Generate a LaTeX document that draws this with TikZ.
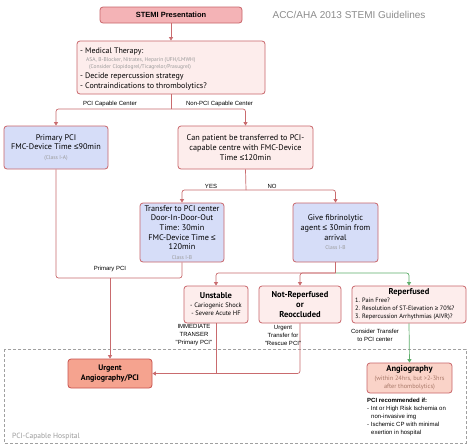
\documentclass[tikz,border=0pt]{standalone}
\usepackage{fontspec}
\setmainfont{PT Sans}
\newfontfamily\lab{Liberation Sans}
\newcommand\myle{{\lab ≤}}
\newcommand\myge{{\lab ≥}}
\usetikzlibrary{arrows.meta}
\definecolor{boxred}{HTML}{C9656A}
\definecolor{linered}{HTML}{C96B6E}
\definecolor{greenl}{HTML}{5DAE6A}
\definecolor{stemifill}{HTML}{F4B3B6}
\definecolor{pinkfill}{HTML}{FDEDEC}
\definecolor{bluefill}{HTML}{D6DDF8}
\definecolor{urgfill}{HTML}{F5A38F}
\definecolor{urgdraw}{HTML}{C8524E}
\definecolor{angfill}{HTML}{FAD3C8}
\definecolor{classgray}{HTML}{9A9A9A}
\definecolor{brownish}{HTML}{A87868}
\definecolor{framegray}{HTML}{A0A0A0}
\definecolor{titlegray}{HTML}{8C8C8C}
\begin{document}
\begin{tikzpicture}[x=1pt,y=-1pt,
  box/.style={draw=boxred, line width=0.8pt, rounded corners=3pt, inner sep=1pt, align=center, font=\fontsize{8.2}{9.7}\selectfont},
  pinkbox/.style={box, fill=pinkfill},
  bluebox/.style={box, fill=bluefill},
  conn/.style={draw=linered, line width=0.7pt, rounded corners=2.5pt},
  gconn/.style={draw=greenl, line width=0.7pt, rounded corners=2.5pt},
  arr/.style={-{Triangle[width=4pt,length=3.5pt]}},
  lbl/.style={font=\lab\fontsize{6}{8}\selectfont, align=center, inner sep=0},
  txt/.style={anchor=base west, inner sep=0}]
\useasboundingbox (0,0) rectangle (474,447);
\fill[white] (0,0) rectangle (474,447);
% frame
\draw[framegray, line width=0.6pt, dash pattern=on 3pt off 2pt] (4,349) rectangle (466,443);
\node[txt, font=\fontsize{7.5}{9}\selectfont, text=classgray] (hosp) at (12,438) {PCI-Capable Hospital};
% title
\node[font=\lab\fontsize{10}{12}\selectfont, text=titlegray, inner sep=0] (title) at (349,15) {ACC/AHA 2013 STEMI Guidelines};
% boxes
\node[box, fill=stemifill, minimum width=142, minimum height=16, font=\lab\bfseries\fontsize{7.5}{9}\selectfont] (stemi) at (171,15) {STEMI Presentation};
\node[pinkbox, minimum width=188, minimum height=53] (med) at (171,67.5) {};
\node[txt, font=\fontsize{8}{9}\selectfont] (m1) at (80,53) {- Medical Therapy:};
\node[txt, font=\fontsize{5.5}{6}\selectfont, text=classgray] (m2) at (86,61) {ASA, B-Blocker, Nitrates, Heparin (UFH/LMWH)};
\node[txt, font=\fontsize{5.5}{6}\selectfont, text=classgray] (m3) at (89,68.5) {(Consider Clopidogrel/Ticagrelor/Prasugrel)};
\node[txt, font=\fontsize{8}{9}\selectfont] (m4) at (80,78) {- Decide repercussion strategy};
\node[txt, font=\fontsize{8}{9}\selectfont] (m5) at (80,88) {- Contraindications to thrombolytics?};

\node[bluebox, minimum width=104, minimum height=43] (ppci) at (56,147.5) {Primary PCI\\FMC-Device Time \myle90min\\{\color{classgray}\fontsize{5.5}{7}\selectfont (Class I-A)}};
\node[pinkbox, minimum width=135, minimum height=43] (can) at (245.5,147.5) {Can patient be transferred to PCI-\\capable centre with FMC-Device\\Time \myle120min};
\node[bluebox, minimum width=84, minimum height=59] (trans) at (182,232.5) {Transfer to PCI center\\Door-In-Door-Out\\Time: 30min\\FMC-Device Time \myle\\120min\\{\color{classgray}\fontsize{5.5}{7}\selectfont Class I-B}};
\node[bluebox, minimum width=85, minimum height=59] (fib) at (335.5,232.5) {Give fibrinolytic\\agent \myle\ 30min from\\arrival\\{\color{classgray}\fontsize{5.5}{7}\selectfont Class I-B}};
\node[pinkbox, minimum width=64, minimum height=37] (unst) at (216,304.5) {{\bfseries\fontsize{8.5}{9}\selectfont Unstable}\\[-1pt]{\fontsize{6.5}{8}\selectfont - Cariogenic Shock}\\[-1.5pt]{\fontsize{6.5}{8}\selectfont - Severe Acute HF}};
\node[pinkbox, minimum width=82, minimum height=37, font=\bfseries\fontsize{8.5}{9.7}\selectfont] (notrep) at (300,304.5) {Not-Reperfused\\or\\Reoccluded};
\node[pinkbox, minimum width=114, minimum height=37, align=left] (rep) at (409,304.5) {};
\node[font=\bfseries\fontsize{8.5}{9}\selectfont, inner sep=0] (rept) at (409,292) {Reperfused};
\node[txt, font=\fontsize{6.3}{7}\selectfont] (r1) at (355,302.5) {1. Pain Free?};
\node[txt, font=\fontsize{6.3}{7}\selectfont] (r2) at (355,310.5) {2. Resolution of ST-Elevation \myge\ 70\%?};
\node[txt, font=\fontsize{6.3}{7}\selectfont] (r3) at (355,318.5) {3. Repercussion Arrhythmias (AIVR)?};
\node[box, draw=urgdraw, fill=urgfill, minimum width=84, minimum height=29, font=\bfseries\fontsize{8}{9.5}\selectfont] (urg) at (110,373.5) {Urgent\\Angiography/PCI};
\node[box, fill=angfill, minimum width=85, minimum height=30] (ang) at (409.5,378) {{\bfseries\fontsize{8.5}{9}\selectfont Angiography}\\[-1pt]{\color{brownish}\fontsize{6.3}{8}\selectfont (within 24hrs, but >2-3hrs}\\[-1.5pt]{\color{brownish}\fontsize{6.3}{8}\selectfont after thombolytics)}};
% PCI recommended
\node[txt, font=\lab\bfseries\fontsize{6}{7}\selectfont] (p1) at (367,402) {PCI recommended if:};
\node[txt, font=\lab\fontsize{6}{7}\selectfont] (p2) at (367,410) {- Int or High Risk Ischemia on};
\node[txt, font=\lab\fontsize{6}{7}\selectfont] (p3) at (371,418) {non-invasive img};
\node[txt, font=\lab\fontsize{6}{7}\selectfont] (p4) at (367,426) {- Ischemic CP with minimal};
\node[txt, font=\lab\fontsize{6}{7}\selectfont] (p5) at (371,434) {exertion in hospital};
% connectors
\coordinate (c1) at (171,109);
\coordinate (c2) at (246,190);
\coordinate (c3) at (110,278);
\coordinate (c4) at (335.5,273);
\coordinate (c5) at (216,373);
\draw[conn, arr] (stemi) -- (med);
\draw[conn] (med.south) -- (c1);
\draw[conn, arr] (c1) -| (ppci.north);
\draw[conn, arr] (c1) -| (can.north);
\draw[conn] (can.south) -- (c2);
\draw[conn, arr] (c2) -| (trans.north);
\draw[conn, arr] (c2) -| (fib.north);
\draw[conn] (ppci.south) |- (c3) -| (trans.south);
\draw[conn, arr] (c3) -- (urg.north);
\draw[conn] (fib.south) -- (c4);
\draw[conn, arr] (c4) -| (unst.north);
\draw[conn, arr] (c4) -| (notrep.north);
\draw[gconn, arr] (c4) -| (rep.north);
\draw[conn] (unst.south) -- (c5);
\draw[conn, arr] (notrep.south) |- (urg.east);
\draw[gconn, arr] (rep.south) -- (ang.north);
% labels
\node[lbl] (l1) at (110,104) {PCI Capable Center};
\node[lbl] (l2) at (219.5,104) {Non-PCI Capable Center};
\node[lbl] (l3) at (211,186) {YES};
\node[lbl] (l4) at (272,186) {NO};
\node[lbl] (l5) at (110,269) {Primary PCI};
\node[lbl] (l6) at (194,335) {IMMEDIATE\\TRANSER\\"Primary PCI"};
\node[lbl] (l7) at (283,335) {Urgent\\Transfer for\\"Rescue PCI"};
\node[lbl] (l8) at (375,335) {Consider Transfer\\to PCI center};
\end{tikzpicture}
\end{document}
